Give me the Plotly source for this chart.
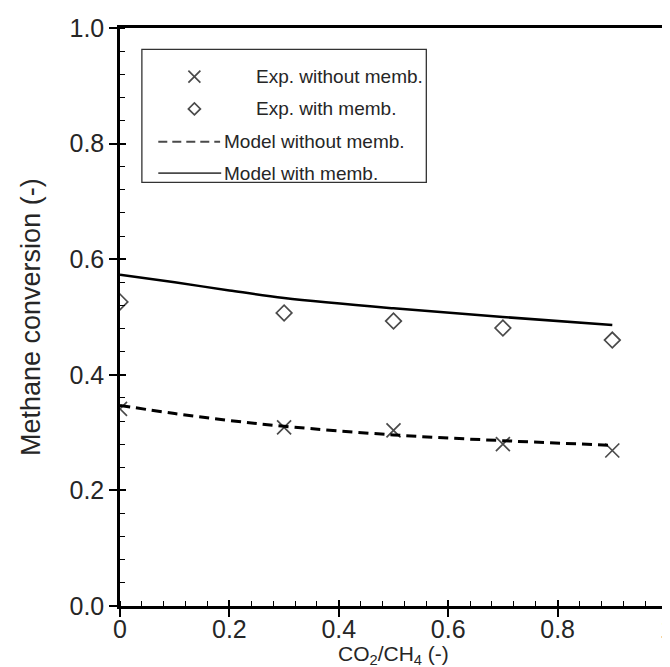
import plotly.graph_objects as go

ratio_exp = [0.0, 0.3, 0.5, 0.7, 0.9]
exp_without = [0.341, 0.309, 0.304, 0.280, 0.269]
exp_with = [0.526, 0.507, 0.493, 0.481, 0.460]

ratio_model = [0.0, 0.1, 0.2, 0.3, 0.5, 0.7, 0.9]
model_without = [0.347, 0.333, 0.321, 0.311, 0.296, 0.286, 0.278]
model_with = [0.573, 0.560, 0.546, 0.533, 0.515, 0.500, 0.486]

x_tickvals = [0, 0.2, 0.4, 0.6, 0.8, 1.0]
x_ticktext = ["0", "0.2", "0.4", "0.6", "0.8", "1"]
y_tickvals = [0.0, 0.2, 0.4, 0.6, 0.8, 1.0]
y_ticktext = ["0.0", "0.2", "0.4", "0.6", "0.8", "1.0"]

x_title = "CO<sub>2</sub>/CH<sub>4</sub> (-)"
y_title = "Methane conversion (-)"
legend_names = ["Exp. without memb.", "Exp. with memb.", "Model without memb.", "Model with memb."]

FONT = "Liberation Sans, Arial, sans-serif"
GRAY = "#4a4a4a"
TXT = "#262626"

fig = go.Figure()
fig.add_trace(go.Scatter(x=ratio_exp, y=exp_without, mode="markers", name=legend_names[0],
                         marker=dict(symbol="x-thin", size=14, line=dict(width=1.7, color=GRAY), color=GRAY)))
fig.add_trace(go.Scatter(x=ratio_exp, y=exp_with, mode="markers", name=legend_names[1],
                         marker=dict(symbol="diamond-open", size=12, line=dict(width=1.7, color=GRAY), color=GRAY)))
fig.add_trace(go.Scatter(x=ratio_model, y=model_without, mode="lines", name=legend_names[2],
                         line=dict(color="black", width=3, dash="10px,6px", shape="spline")))
fig.add_trace(go.Scatter(x=ratio_model, y=model_with, mode="lines", name=legend_names[3],
                         line=dict(color="black", width=2.5, shape="spline")))

axis_common = dict(showgrid=False, zeroline=False, showline=True, linecolor="black", linewidth=2.5,
                   automargin=False, ticklabeloverflow="allow",
                   ticks="outside", ticklen=8, tickwidth=1.5, tickcolor="black",
                   tickfont=dict(family=FONT, size=25, color=TXT))

# manual legend (paper coordinates)
row_y = [0.916, 0.860, 0.803, 0.749]
sym_x = 0.136
shapes = [
    dict(type="rect", xref="paper", yref="paper", x0=0.040, x1=0.560, y0=0.733, y1=0.963,
         line=dict(color="#333", width=1.3), fillcolor="white", layer="below"),
    dict(type="path", xref="paper", yref="paper", xsizemode="pixel", ysizemode="pixel",
         xanchor=sym_x, yanchor=row_y[0], path="M-6,-6 L6,6 M-6,6 L6,-6",
         line=dict(color=GRAY, width=1.7)),
    dict(type="path", xref="paper", yref="paper", xsizemode="pixel", ysizemode="pixel",
         xanchor=sym_x, yanchor=row_y[1], path="M0,-6 L6,0 L0,6 L-6,0 Z",
         line=dict(color=GRAY, width=1.7)),
    dict(type="line", xref="paper", yref="paper", x0=0.070, x1=0.183, y0=row_y[2], y1=row_y[2],
         line=dict(color=GRAY, width=2, dash="9px,5px")),
    dict(type="line", xref="paper", yref="paper", x0=0.070, x1=0.185, y0=row_y[3], y1=row_y[3],
         line=dict(color=GRAY, width=1.6)),
]
text_x = [0.245, 0.245, 0.186, 0.186]
annotations = [
    dict(text=legend_names[i], xref="paper", yref="paper", x=text_x[i], y=row_y[i],
         xanchor="left", yanchor="middle", showarrow=False,
         font=dict(family=FONT, size=19, color=TXT))
    for i in range(4)
]
annotations += [
    dict(text=x_title, xref="paper", yref="paper", x=0.5, y=0, yanchor="bottom", yshift=-64,
         showarrow=False, font=dict(family=FONT, size=21, color=TXT)),
    dict(text=y_title, xref="paper", yref="paper", x=0, y=0.5, xanchor="right", xshift=-72,
         textangle=-90, showarrow=False, font=dict(family=FONT, size=27, color=TXT)),
]

fig.update_layout(
    width=670, height=667,
    margin=dict(l=112, r=11, t=20, b=69),
    plot_bgcolor="white", paper_bgcolor="white",
    showlegend=False,
    xaxis=dict(range=[0, 1], tickvals=x_tickvals, ticktext=x_ticktext, mirror=True, ticklabelstandoff=-9,
               minor=dict(dtick=0.04, ticks="inside", ticklen=5, tickwidth=1.2, tickcolor="black"),
               **axis_common),
    yaxis=dict(range=[0, 1], tickvals=y_tickvals, ticktext=y_ticktext, mirror=True,
               minor=dict(dtick=0.04, ticks="inside", ticklen=5, tickwidth=1.2, tickcolor="black"),
               **axis_common),
    xaxis2=dict(range=[0, 1], overlaying="x", tickvals=x_tickvals, showticklabels=False, showgrid=False,
                zeroline=False, ticks="inside", ticklen=6, tickwidth=1.5, tickcolor="black", side="bottom",
                anchor="y", automargin=False),
    yaxis2=dict(range=[0, 1], overlaying="y", tickvals=y_tickvals, showticklabels=False, showgrid=False,
                zeroline=False, ticks="inside", ticklen=6, tickwidth=1.5, tickcolor="black", side="left",
                anchor="x", automargin=False),
    shapes=shapes,
    annotations=annotations,
)
fig.add_trace(go.Scatter(x=[None], y=[None], xaxis="x2", yaxis="y2", showlegend=False, hoverinfo="skip"))

fig.write_html("out.html")
